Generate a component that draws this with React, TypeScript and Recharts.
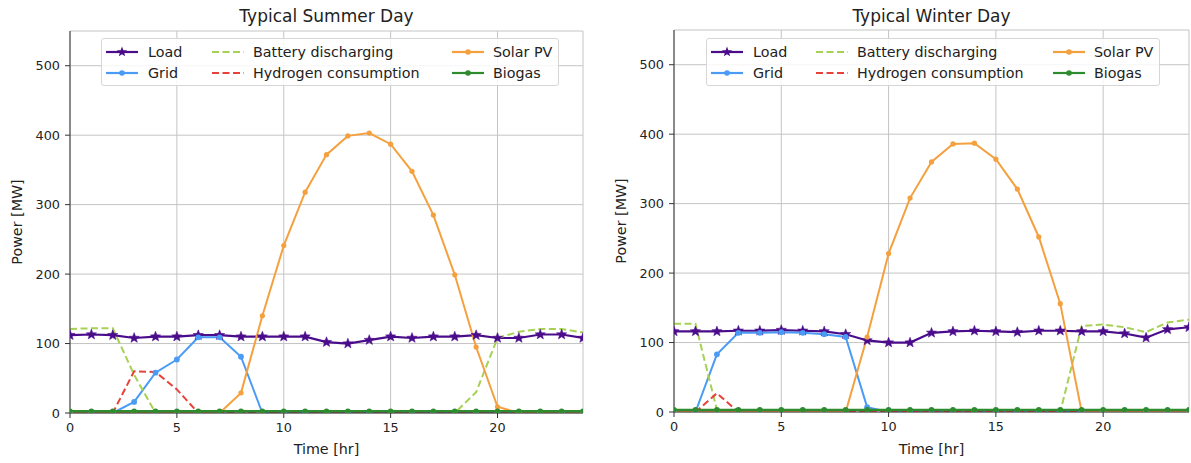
import React from 'react';
import { LineChart, Line, XAxis, YAxis, CartesianGrid } from 'recharts';

const hours = [0,1,2,3,4,5,6,7,8,9,10,11,12,13,14,15,16,17,18,19,20,21,22,23,24];
const xTicks = [0, 5, 10, 15, 20];
const yTicks = [0, 100, 200, 300, 400, 500];

// Typical Summer Day
const summerLoad = [112,113,112,108,110,110,112,112,110,110,110,110,102,100,105,110,108,110,110,112,108,108,113,113,108];
const summerGrid = [0,0,0,16,58,77,109,109,81,0,0,0,0,0,0,0,0,0,0,0,0,0,0,0,0];
const summerBattery = [121,122,122,55,0,0,0,0,0,0,0,0,0,0,0,0,0,0,0,30,108,117,121,121,116];
const summerHydrogen = [0,0,0,60,59,34,0,0,0,0,0,0,0,0,0,0,0,0,0,0,0,0,0,0,0];
const summerSolar = [0,0,0,0,0,0,0,0,29,140,241,318,372,399,403,387,348,285,199,95,9,0,0,0,0];
const summerBiogas = [2.5,2.5,2.5,2.5,2.5,2.5,2.5,2.5,2.5,2.5,2.5,2.5,2.5,2.5,2.5,2.5,2.5,2.5,2.5,2.5,2.5,2.5,2.5,2.5,2.5];

// Typical Winter Day
const winterLoad = [116,116,116,117,117,118,117,116,112,103,100,100,114,116,117,116,115,117,117,116,116,113,107,119,122];
const winterGrid = [0,0,83,114,114,115,114,112,108,7,0,0,0,0,0,0,0,0,0,0,0,0,0,0,0];
const winterBattery = [127,127,3,0,0,0,0,0,0,0,0,0,0,0,0,0,0,0,0,124,126,122,115,129,133];
const winterHydrogen = [0,0,27,0,0,0,0,0,0,0,0,0,0,0,0,0,0,0,0,0,0,0,0,0,0];
const winterSolar = [0,0,0,0,0,0,0,0,0,108,228,308,360,386,387,364,321,252,156,0,0,0,0,0,0];
const winterBiogas = [3,3,3,3,3,3,3,3,3,3,3,3,3,3,3,3,3,3,3,3,3,3,3,3,3];

const FONT = '"DejaVu Sans", Verdana, sans-serif';
const C_LOAD = '#4b0c8c';
const C_GRID = '#4a9bf5';
const C_BATT = '#a6d153';
const C_H2 = '#e8413a';
const C_SOLAR = '#f5a03e';
const C_BIO = '#2e8b2e';
const DASH = '7 3.5';

function build(load: number[], grid: number[], batt: number[], h2: number[], solar: number[], bio: number[]) {
  return hours.map((h, i) => ({ hour: h, load: load[i], grid: grid[i], batt: batt[i], h2: h2[i], solar: solar[i], bio: bio[i] }));
}

const summerData = build(summerLoad, summerGrid, summerBattery, summerHydrogen, summerSolar, summerBiogas);
const winterData = build(winterLoad, winterGrid, winterBattery, winterHydrogen, winterSolar, winterBiogas);

function starPoints(cx: number, cy: number, R: number, r: number) {
  const pts: string[] = [];
  for (let k = 0; k < 10; k++) {
    const rad = k % 2 === 0 ? R : r;
    const a = -Math.PI / 2 + (k * Math.PI) / 5;
    pts.push(`${(cx + rad * Math.cos(a)).toFixed(2)},${(cy + rad * Math.sin(a)).toFixed(2)}`);
  }
  return pts.join(' ');
}

const StarDot = (p: any) => {
  const { cx, cy } = p;
  if (cx == null || cy == null) return null;
  return <polygon points={starPoints(cx, cy, 5.4, 2.3)} fill={C_LOAD} stroke={C_LOAD} strokeWidth={0.5} />;
};

const legendItems = [
  { label: 'Load', color: C_LOAD, dash: false, marker: 'star', col: 0, row: 0 },
  { label: 'Grid', color: C_GRID, dash: false, marker: 'circle', col: 0, row: 1 },
  { label: 'Battery discharging', color: C_BATT, dash: true, marker: 'none', col: 1, row: 0 },
  { label: 'Hydrogen consumption', color: C_H2, dash: true, marker: 'none', col: 1, row: 1 },
  { label: 'Solar PV', color: C_SOLAR, dash: false, marker: 'circle', col: 2, row: 0 },
  { label: 'Biogas', color: C_BIO, dash: false, marker: 'circle', col: 2, row: 1 },
];

const Legend = ({ left, top, width, cols }: { left: number; top: number; width: number; cols: number[] }) => (
  <div style={{ position: 'absolute', left, top, width, height: 48, border: '1px solid #d6d6d6', borderRadius: 3, background: 'rgba(255,255,255,0.85)', boxSizing: 'border-box' }}>
    {legendItems.map((it) => {
      const cy = it.row === 0 ? 12.5 : 34;
      const sx = cols[it.col * 2];
      const tx = cols[it.col * 2 + 1];
      return (
        <React.Fragment key={it.label}>
          <svg style={{ position: 'absolute', left: sx, top: cy - 6 }} width={34} height={12}>
            <line x1={1} y1={6} x2={33} y2={6} stroke={it.color} strokeWidth={it.dash ? 2 : 2.2} strokeDasharray={it.dash ? DASH : undefined} />
            {it.marker === 'star' && <polygon points={starPoints(17, 6, 5.4, 2.3)} fill={it.color} />}
            {it.marker === 'circle' && <circle cx={17} cy={6} r={2.8} fill={it.color} />}
          </svg>
          <div style={{ position: 'absolute', left: tx, top: cy - 9, height: 18, lineHeight: '18px', fontSize: 14.3, fontFamily: FONT, color: '#222', whiteSpace: 'nowrap' }}>{it.label}</div>
        </React.Fragment>
      );
    })}
  </div>
);

type PanelProps = {
  title: string;
  data: any[];
  x: number;
  width: number;
  margin: { top: number; right: number; bottom: number; left: number };
  legendLeft: number;
  legendWidth: number;
  legendCols: number[];
};

const Panel = ({ title, data, x, width, margin, legendLeft, legendWidth, legendCols }: PanelProps) => {
  const plotLeft = margin.left + 40;
  const plotRight = width - margin.right;
  const plotTop = margin.top;
  const plotBottom = 463 - margin.bottom - 30;
  const cx = (plotLeft + plotRight) / 2;
  const cy = (plotTop + plotBottom) / 2;
  const tickStyle = { fontSize: 12.8, fontFamily: FONT, fill: '#222' };
  return (
    <div style={{ position: 'absolute', left: x, top: 0, width, height: 463 }}>
      <LineChart width={width} height={463} data={data} margin={margin}>
        <CartesianGrid stroke="#c4c4c4" strokeWidth={1} />
        <XAxis dataKey="hour" type="number" domain={[0, 24]} ticks={xTicks} allowDataOverflow
          tick={tickStyle} tickSize={5} tickMargin={5} height={30} axisLine={{ stroke: '#333' }} tickLine={{ stroke: '#333' }} />
        <XAxis xAxisId="top" orientation="top" dataKey="hour" type="number" domain={[0, 24]} tick={false} tickLine={false} height={0} axisLine={{ stroke: '#333' }} />
        <YAxis type="number" domain={[0, 550]} ticks={yTicks} allowDataOverflow width={40}
          tick={tickStyle} tickSize={5} tickMargin={5} axisLine={{ stroke: '#333' }} tickLine={{ stroke: '#333' }} />
        <YAxis yAxisId="right" orientation="right" type="number" domain={[0, 550]} tick={false} tickLine={false} width={0} axisLine={{ stroke: '#333' }} />
        <Line dataKey="load" type="linear" stroke={C_LOAD} strokeWidth={2.2} isAnimationActive={false}
          dot={(p: any) => <StarDot key={`s${p.index}`} {...p} />} activeDot={false} />
        <Line dataKey="grid" type="linear" stroke={C_GRID} strokeWidth={2} isAnimationActive={false}
          dot={{ r: 2.9, fill: C_GRID, stroke: C_GRID, strokeWidth: 0 }} activeDot={false} />
        <Line dataKey="batt" type="linear" stroke={C_BATT} strokeWidth={2} strokeDasharray={DASH} isAnimationActive={false} dot={false} activeDot={false} />
        <Line dataKey="h2" type="linear" stroke={C_H2} strokeWidth={2} strokeDasharray={DASH} isAnimationActive={false} dot={false} activeDot={false} />
        <Line dataKey="solar" type="linear" stroke={C_SOLAR} strokeWidth={2} isAnimationActive={false}
          dot={{ r: 2.6, fill: C_SOLAR, stroke: C_SOLAR, strokeWidth: 0 }} activeDot={false} />
        <Line dataKey="bio" type="linear" stroke={C_BIO} strokeWidth={2.4} isAnimationActive={false}
          dot={{ r: 2.8, fill: C_BIO, stroke: C_BIO, strokeWidth: 0 }} activeDot={false} />
      </LineChart>
      <div style={{ position: 'absolute', left: cx - 150, width: 300, top: 6, textAlign: 'center', fontSize: 17, lineHeight: '20px', fontFamily: FONT, color: '#222' }}>{title}</div>
      <div style={{ position: 'absolute', left: cx - 100, width: 200, top: 440, textAlign: 'center', fontSize: 14.3, lineHeight: '18px', fontFamily: FONT, color: '#222' }}>Time [hr]</div>
      <div style={{ position: 'absolute', left: plotLeft - 53 - 100, width: 200, top: cy - 9, textAlign: 'center', fontSize: 14.3, lineHeight: '18px', fontFamily: FONT, color: '#222', transform: 'rotate(-90deg)' }}>Power [MW]</div>
      <Legend left={legendLeft} top={38} width={legendWidth} cols={legendCols} />
    </div>
  );
};

export default function App() {
  return (
    <div style={{ position: 'absolute', left: 0, top: 0, width: 1191, height: 463, background: '#fff', overflow: 'hidden' }}>
      <Panel title="Typical Summer Day" data={summerData} x={0} width={600}
        margin={{ top: 31, right: 17, bottom: 20, left: 30 }}
        legendLeft={101} legendWidth={458} legendCols={[3, 46, 109, 151, 349, 391]} />
      <Panel title="Typical Winter Day" data={winterData} x={600} width={591}
        margin={{ top: 30, right: 2, bottom: 21, left: 34 }}
        legendLeft={106} legendWidth={454} legendCols={[3, 46, 108, 150, 345, 387]} />
    </div>
  );
}
